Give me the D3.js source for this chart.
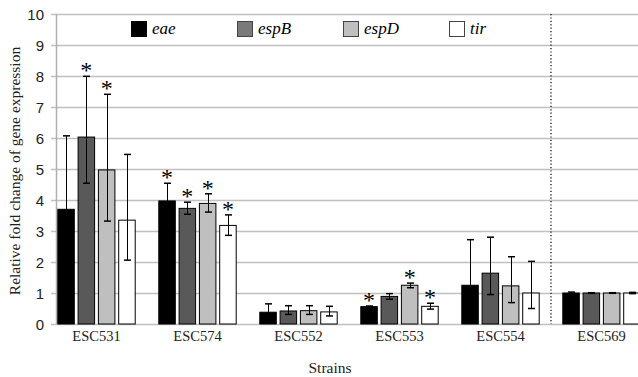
<!DOCTYPE html>
<html><head><meta charset="utf-8">
<script src="https://cdn.jsdelivr.net/npm/d3@7"></script>
<style>body{margin:0;background:#fff}svg{display:block}</style>
</head><body>
<svg id="c" width="638" height="377"></svg>
<script>
const strains = ["ESC531","ESC574","ESC552","ESC553","ESC554","ESC569"];
const genes = ["eae","espB","espD","tir"];
const colors = ["#000000","#595959","#bfbfbf","#ffffff"];
const legendColors = ["#000000","#7a7a7a","#bfbfbf","#ffffff"];
// values per strain, order eae, espB, espD, tir
const eaeVals  = [3.70, 3.97, 0.38, 0.56, 1.25, 1.00];
const espBVals = [6.03, 3.73, 0.42, 0.89, 1.64, 1.00];
const espDVals = [4.97, 3.89, 0.43, 1.25, 1.23, 1.00];
const tirVals  = [3.35, 3.18, 0.39, 0.57, 1.00, 1.00];
// error bar bounds (lower, upper)
const eaeLow  = [1.33, 3.40, 0.11, 0.54, -0.22, 0.98];
const eaeHigh = [6.07, 4.54, 0.65, 0.58, 2.72, 1.03];
const espBLow  = [4.54, 3.54, 0.31, 0.80, 0.95, 0.99];
const espBHigh = [7.99, 3.93, 0.59, 0.98, 2.80, 1.01];
const espDLow  = [3.32, 3.61, 0.31, 1.17, 0.69, 0.99];
const espDHigh = [7.41, 4.20, 0.59, 1.32, 2.17, 1.01];
const tirLow  = [2.06, 2.86, 0.26, 0.48, 0.50, 0.98];
const tirHigh = [5.47, 3.52, 0.57, 0.67, 2.02, 1.02];
// significance markers
const eaeSig  = [false, true, false, true, false, false];
const espBSig = [true, true, false, false, false, false];
const espDSig = [true, true, false, true, false, false];
const tirSig  = [false, true, false, true, false, false];
const yTicks = [0,1,2,3,4,5,6,7,8,9,10];

const SERIF = "'Liberation Serif'";
const SANS = "'Liberation Sans'";

const vals = [eaeVals, espBVals, espDVals, tirVals];
const lows = [eaeLow, espBLow, espDLow, tirLow];
const highs = [eaeHigh, espBHigh, espDHigh, tirHigh];
const sigs = [eaeSig, espBSig, espDSig, tirSig];

const data = [];
strains.forEach((s, i) => genes.forEach((g, j) => data.push({
  strain: s, gene: g, gi: j, v: vals[j][i], lo: lows[j][i], hi: highs[j][i], sig: sigs[j][i]
})));

const svg = d3.select("#c");
const plotL = 56, plotR = 638, plotT = 14, plotB = 324;
const x = d3.scaleBand().domain(strains).range([46, 652]);
const xg = d3.scaleBand().domain(genes).range([11.3, 89.7]).paddingInner(0.138);
const y = d3.scaleLinear().domain([0, 10]).range([plotB, plotT]);

// gridlines
svg.append("g").selectAll("line").data(yTicks).join("line")
  .attr("x1", 51).attr("x2", plotR)
  .attr("y1", d => Math.round(y(d)) + 0.5).attr("y2", d => Math.round(y(d)) + 0.5)
  .attr("stroke", "#c0c0c0").attr("stroke-width", 1.5);

// y axis
const yAxis = d3.axisLeft(y).tickValues(yTicks).tickSize(0).tickPadding(0);
const ya = svg.append("g").attr("transform", `translate(44,0)`).call(yAxis);
ya.attr("font-family", null);
ya.select(".domain").remove();
ya.selectAll("text").style("font-family", SANS)
  .attr("font-size", 15).attr("fill", "#222").attr("dy", "0.35em");
svg.append("line").attr("x1", plotL + 0.5).attr("x2", plotL + 0.5)
  .attr("y1", plotT).attr("y2", plotB).attr("stroke", "#b0b0b0").attr("stroke-width", 1.5);

// x axis labels
const xAxis = d3.axisBottom(x).tickSize(0).tickPadding(7);
const xa = svg.append("g").attr("transform", `translate(0,${plotB})`).call(xAxis);
xa.attr("font-family", null);
xa.select(".domain").remove();
xa.selectAll("text").style("font-family", SERIF)
  .attr("font-size", 14.5).attr("fill", "#222");

// dotted separator
svg.append("line").attr("x1", x("ESC569")).attr("x2", x("ESC569"))
  .attr("y1", plotT).attr("y2", plotB).attr("stroke", "#000")
  .attr("stroke-width", 1.2).attr("stroke-dasharray", "1.2,2.2");

// bars
const bx = d => x(d.strain) + xg(d.gene);
svg.append("g").selectAll("rect").data(data).join("rect")
  .attr("x", d => bx(d) + 0.5).attr("y", d => y(d.v))
  .attr("width", xg.bandwidth() - 1).attr("height", d => y(0) - y(d.v))
  .attr("fill", d => colors[d.gi]).attr("stroke", "#000").attr("stroke-width", 1);

// error bars
const eb = svg.append("g").attr("stroke", "#000").attr("stroke-width", 1);
data.forEach(d => {
  const cx = Math.round(bx(d) + xg.bandwidth() / 2) + 0.5;
  const lo = Math.max(d.lo, 0);
  eb.append("line").attr("x1", cx).attr("x2", cx).attr("y1", y(d.hi)).attr("y2", y(lo));
  eb.append("line").attr("x1", cx - 3.5).attr("x2", cx + 3.5).attr("y1", y(d.hi)).attr("y2", y(d.hi)).attr("stroke-width", 1.5);
  if (d.lo > 0) eb.append("line").attr("x1", cx - 3.5).attr("x2", cx + 3.5).attr("y1", y(d.lo)).attr("y2", y(d.lo)).attr("stroke-width", 1.5);
});

// stars
svg.append("g").selectAll("text").data(data.filter(d => d.sig)).join("text")
  .style("font-family", SERIF)
  .attr("x", d => bx(d) + xg.bandwidth() / 2).attr("y", d => y(d.hi) + 2)
  .attr("text-anchor", "middle")
  .attr("font-size", 24).attr("fill", "#000").text("*");

// legend
const lg = svg.append("g");
genes.forEach((g, i) => {
  const lx = 131 + i * 106;
  lg.append("rect").attr("x", lx + 0.5).attr("y", 21.5).attr("width", 15).attr("height", 15)
    .attr("fill", legendColors[i]).attr("stroke", i === 0 ? "#000" : "#444").attr("stroke-width", 1);
  lg.append("text").style("font-family", SERIF).attr("x", lx + 21).attr("y", 34)
    .attr("font-style", "italic").attr("font-size", 17).attr("fill", "#000").text(g);
});

// axis titles
svg.append("text").style("font-family", SERIF).attr("transform", `translate(20,171) rotate(-90)`)
  .attr("text-anchor", "middle")
  .attr("font-size", 15.5).attr("fill", "#222").text("Relative fold change of gene expression");
svg.append("text").style("font-family", SERIF).attr("x", 330).attr("y", 373).attr("text-anchor", "middle")
  .attr("font-size", 15.5).attr("fill", "#222").text("Strains");
</script>
</body></html>
